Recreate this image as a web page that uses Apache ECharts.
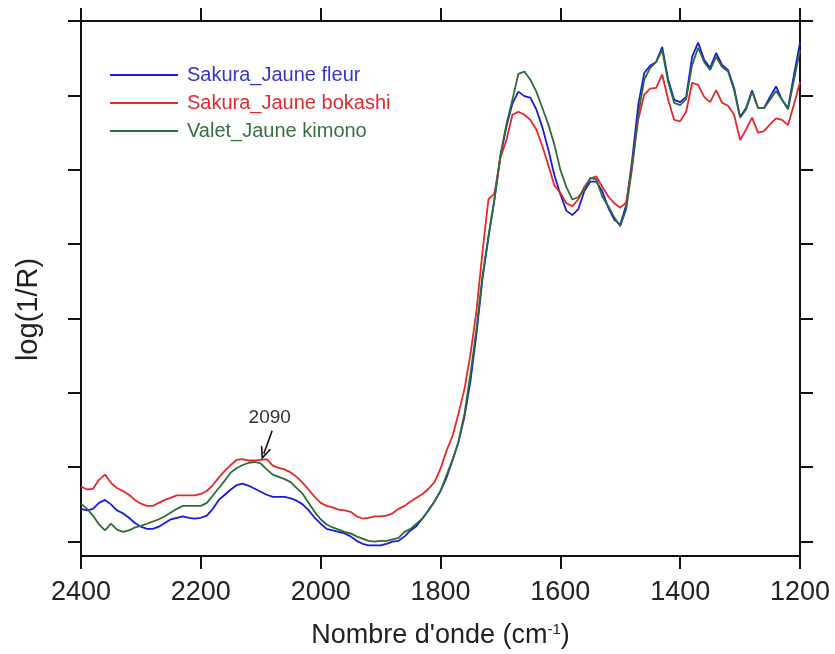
<!DOCTYPE html>
<html><head><meta charset="utf-8">
<script src="https://cdn.jsdelivr.net/npm/echarts@6/dist/echarts.min.js"></script>
<style>html,body{margin:0;padding:0;background:#fff}#c{width:835px;height:654px}</style>
</head><body><div id="c"></div>
<script>
const wavenumbers = [2400,2390,2380,2370,2360,2350,2340,2330,2320,2310,2300,2290,2280,2270,2260,2250,2240,2230,2220,2210,
2200,2190,2180,2170,2160,2150,2140,2130,2120,2110,2100,2090,2080,2070,2060,2050,2040,2030,2020,2010,
2000,1990,1980,1970,1960,1950,1940,1930,1920,1910,1900,1890,1880,1870,1860,1850,1840,1830,1820,1810,
1800,1790,1780,1770,1760,1750,1740,1730,1720,1710,1700,1690,1680,1670,1660,1650,1640,1630,1620,1610,
1600,1590,1580,1570,1560,1550,1540,1530,1520,1510,1500,1490,1480,1470,1460,1450,1440,1430,1420,1410,
1400,1390,1380,1370,1360,1350,1340,1330,1320,1310,1300,1290,1280,1270,1260,1250,1240,1230,1220,1210,1200];

const fleur = [0.44,0.42,0.44,0.52,0.56,0.50,0.42,0.38,0.32,0.25,0.20,0.17,0.17,0.20,0.25,0.30,0.32,0.34,0.32,0.31,
0.32,0.35,0.44,0.56,0.63,0.70,0.76,0.78,0.75,0.71,0.67,0.63,0.60,0.60,0.60,0.58,0.55,0.50,0.42,0.32,
0.24,0.17,0.15,0.13,0.11,0.07,0.01,-0.03,-0.05,-0.05,-0.05,-0.03,0.00,0.01,0.07,0.15,0.21,0.31,0.42,0.54,
0.68,0.86,1.09,1.34,1.68,2.16,2.79,3.53,4.09,4.60,5.18,5.58,5.89,6.05,5.99,5.97,5.81,5.57,5.27,4.93,
4.67,4.45,4.39,4.47,4.71,4.84,4.84,4.71,4.49,4.33,4.26,4.53,5.14,5.87,6.30,6.40,6.45,6.65,6.21,5.94,
5.91,5.98,6.52,6.71,6.48,6.37,6.57,6.41,6.34,6.10,5.71,5.83,6.07,5.83,5.83,5.98,6.12,5.94,5.83,6.28,6.71];

const bokashi = [0.74,0.70,0.71,0.83,0.90,0.79,0.72,0.68,0.63,0.56,0.51,0.48,0.48,0.52,0.56,0.59,0.62,0.62,0.62,0.62,
0.64,0.68,0.76,0.86,0.95,1.03,1.10,1.11,1.09,1.09,1.10,1.11,1.02,0.99,0.97,0.93,0.87,0.79,0.70,0.60,
0.52,0.48,0.46,0.43,0.42,0.40,0.34,0.31,0.32,0.34,0.34,0.35,0.38,0.44,0.48,0.54,0.59,0.64,0.71,0.80,
0.98,1.22,1.42,1.72,2.05,2.52,3.10,3.89,4.60,4.68,5.16,5.40,5.74,5.78,5.74,5.67,5.54,5.32,5.06,4.79,
4.69,4.55,4.51,4.60,4.77,4.88,4.91,4.77,4.64,4.55,4.49,4.56,5.07,5.67,6.01,6.09,6.10,6.28,5.94,5.67,
5.65,5.78,6.17,6.14,5.98,5.91,6.07,5.90,5.86,5.74,5.40,5.54,5.70,5.50,5.52,5.61,5.69,5.67,5.60,5.88,6.18];

const kimono = [0.51,0.44,0.35,0.23,0.15,0.24,0.16,0.13,0.15,0.19,0.21,0.24,0.27,0.30,0.34,0.39,0.44,0.48,0.48,0.48,
0.48,0.52,0.62,0.72,0.82,0.93,0.99,1.03,1.06,1.07,1.05,0.97,0.90,0.87,0.84,0.80,0.72,0.64,0.52,0.40,
0.30,0.23,0.19,0.16,0.13,0.11,0.07,0.04,0.01,0.00,0.01,0.01,0.03,0.05,0.13,0.17,0.24,0.31,0.42,0.54,
0.68,0.89,1.10,1.34,1.72,2.25,2.86,3.57,4.10,4.60,5.20,5.61,5.94,6.29,6.32,6.21,6.05,5.83,5.61,5.34,
5.00,4.77,4.60,4.63,4.73,4.89,4.87,4.64,4.51,4.36,4.24,4.47,5.04,5.74,6.21,6.37,6.45,6.61,6.18,5.90,
5.87,5.95,6.41,6.64,6.45,6.34,6.52,6.38,6.32,6.07,5.70,5.81,6.05,5.83,5.83,5.94,6.06,5.94,5.81,6.21,6.61];

const seriesNames = ['Sakura_Jaune fleur', 'Sakura_Jaune bokashi', 'Valet_Jaune kimono'];
const yTicks = [0, 1, 2, 3, 4, 5, 6, 7];
const xRange = [1200, 2400];
const xInterval = 200;
const yRange = [-0.194, 7];
const annotationText = '2090';
const annotationLabelPos = [2085, 1.66];
const annotationArrowFrom = [2081, 1.49];
const annotationArrowTo = [2095, 1.18];

const FONT = 'Liberation Sans, Arial, sans-serif';
const AX = '#111';
const colors = ['#1a1ae0', '#e8262b', '#2e6e36'];
const textColors = ['#3535c8', '#e02a2e', '#3a6e3e'];
const values = [fleur, bokashi, kimono];

const chart = echarts.init(document.getElementById('c'), null, {renderer: 'canvas'});

function xAx(pos, showLabel) {
  return {
    type: 'value', position: pos, min: xRange[0], max: xRange[1], interval: xInterval, inverse: true,
    axisLine: {show: true, onZero: false, lineStyle: {color: AX, width: 2}},
    axisTick: {show: true, inside: false, length: 13, lineStyle: {color: AX, width: 2}},
    axisLabel: {show: showLabel, fontSize: 27, color: '#222', margin: 23, fontFamily: FONT,
      formatter: v => String(v)},
    splitLine: {show: false}
  };
}
function yAx(pos) {
  return {
    type: 'value', position: pos, min: yRange[0], max: yRange[1],
    axisLine: {show: true, onZero: false, lineStyle: {color: AX, width: 2}},
    axisTick: {show: true, inside: false, length: 13, customValues: yTicks, lineStyle: {color: AX, width: 2}},
    axisLabel: {show: false},
    splitLine: {show: false}
  };
}

const xBottom = xAx('bottom', true);
xBottom.name = "Nombre d'onde (cm{sup|-1})";
xBottom.nameLocation = 'middle';
xBottom.nameGap = 66;
xBottom.nameTextStyle = {fontSize: 27, color: '#222', fontFamily: FONT,
  rich: {sup: {fontSize: 15, color: '#222', fontFamily: FONT, verticalAlign: 'top', padding: [0, 0, 12, 0]}}};
const xTop = xAx('top', false);

const yLeft = yAx('left');
yLeft.name = 'log(1/R)';
yLeft.nameLocation = 'middle';
yLeft.nameGap = 38;
yLeft.nameRotate = 90;
yLeft.nameTextStyle = {fontSize: 29, color: '#222', fontFamily: FONT, padding: [0, 42, 0, 0]};
const yRight = yAx('right');

const series = seriesNames.map((n, k) => ({
  name: n, type: 'line', xAxisIndex: 0, yAxisIndex: 0,
  symbol: 'none', showSymbol: false, smooth: false,
  lineStyle: {color: colors[k], width: 1.8},
  itemStyle: {color: colors[k]},
  data: wavenumbers.map((w, i) => [w, values[k][i]]),
  z: [2, 3, 4][k]
}));
series.push({
  name: 'annotation', type: 'line', xAxisIndex: 0, yAxisIndex: 0, data: [], silent: true,
  markLine: {
    silent: true, animation: false,
    symbol: ['none', 'path://M5,0 L10,11 L8.4,11 L5,3.6 L1.6,11 L0,11 Z'],
    symbolSize: [11, 13],
    lineStyle: {color: '#111', width: 1.6, type: 'solid'},
    label: {show: false},
    data: [[{coord: annotationArrowFrom}, {coord: annotationArrowTo}]]
  },
  markPoint: {
    silent: true, animation: false, symbol: 'circle', symbolSize: 1,
    itemStyle: {color: 'rgba(0,0,0,0)'},
    label: {show: true, position: 'inside', formatter: annotationText, fontSize: 19, color: '#333', fontFamily: FONT},
    data: [{coord: annotationLabelPos}]
  }
});

chart.setOption({
  animation: false,
  backgroundColor: '#fff',
  grid: {left: 81, right: 35, top: 21, bottom: 97, containLabel: false},
  xAxis: [xBottom, xTop],
  yAxis: [yLeft, yRight],
  legend: {
    orient: 'vertical', left: 110, top: 65, padding: 0, icon: 'rect', itemWidth: 68, itemHeight: 2, itemGap: 8,
    data: seriesNames.map((n, k) => ({name: n, textStyle: {color: textColors[k]}})),
    textStyle: {fontSize: 20, fontFamily: FONT, padding: [0, 0, 0, 4]}
  },
  series: series
});
</script>
</body></html>
